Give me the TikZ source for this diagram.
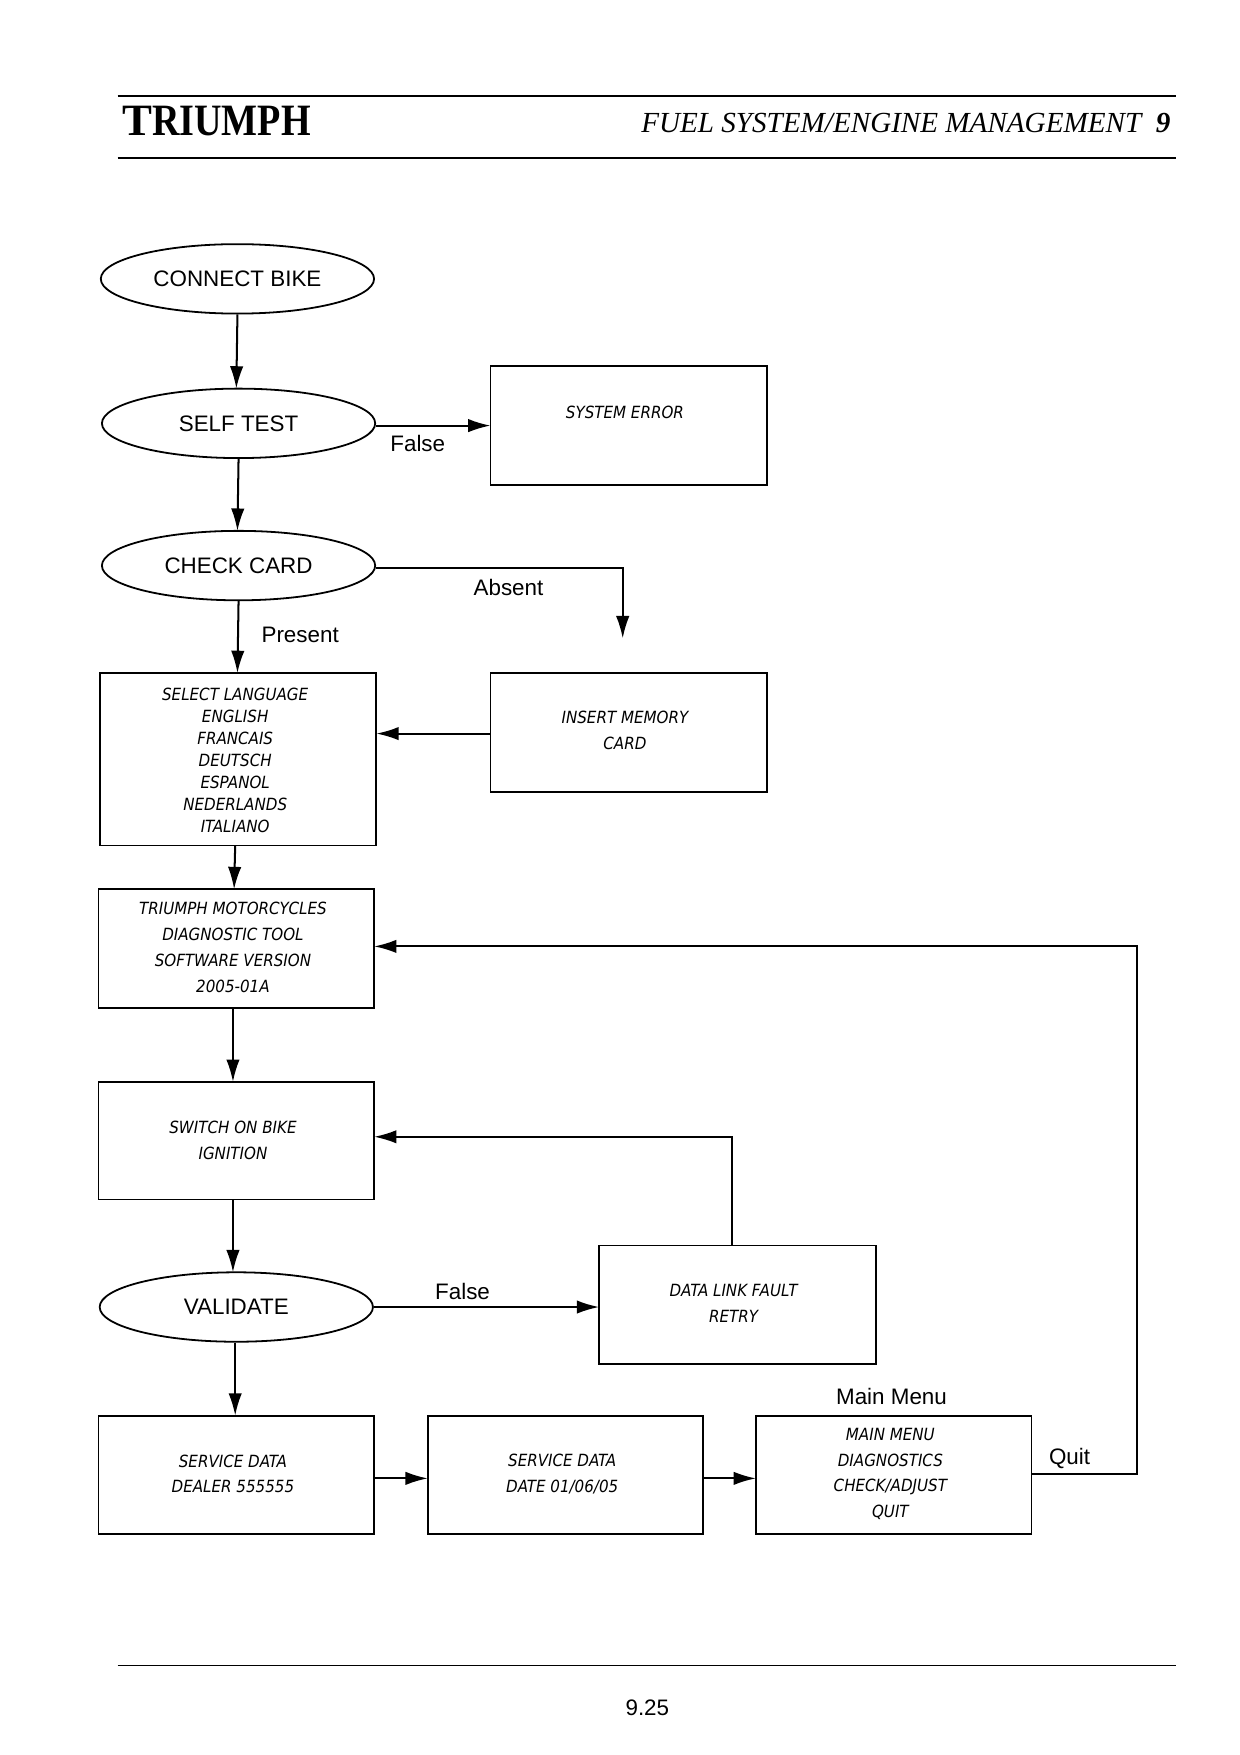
\documentclass[tikz,border=0pt]{standalone}
\usepackage{fontspec}
\setmainfont{Liberation Sans}
\newfontfamily\lcd{DejaVu Sans Condensed}
\newfontfamily\serifit{Liberation Serif}
\usetikzlibrary{shapes.geometric,arrows.meta}
\begin{document}
\begin{tikzpicture}[x=0.5pt,y=-0.5pt,
  el/.style={ellipse,draw,line width=0.8pt,minimum width=122pt,minimum height=31pt,inner sep=0pt,font=\fontsize{10}{12}\selectfont},
  bx/.style={draw,line width=0.8pt,inner sep=0pt},
  bt/.style={align=center,font=\lcd\itshape\fontsize{7.5}{11.5}\selectfont},
  lb/.style={font=\fontsize{10}{12}\selectfont},
  ar/.style={line width=0.9pt,-{Latex[length=10pt,width=6pt]}},
  ln/.style={line width=0.8pt}]
\useasboundingbox (0,0) rectangle (1107,1567);
% header/footer
\draw[line width=0.8pt] (105,86) -- (1050,86);
\draw[line width=0.8pt] (105,141) -- (1050,141);
\node[anchor=west,font=\fontfamily{}\serifit\bfseries\fontsize{20}{20}\selectfont] (logo) at (102,108) {T\scalebox{0.85}[1]{RIUMPH}};
\node[anchor=east,font=\serifit\itshape\fontsize{13}{14}\selectfont] (title) at (1052,110) {FUEL SYSTEM/ENGINE MANAGEMENT\ \ \textbf{9}};
\draw[line width=0.8pt] (105,1487) -- (1050,1487);
\node[lb] (pg) at (578,1525) {9.25};
% ellipses
\node[el] (cb) at (212,249) {CONNECT BIKE};
\node[el] (st) at (213,378) {SELF TEST};
\node[el] (cc) at (213,505) {CHECK CARD};
\node[el] (va) at (211,1167) {VALIDATE};
% boxes
\draw[bx] (438,327) rectangle (685,433); \node[bt] (se) at (558,368) {SYSTEM ERROR};
\coordinate (seW) at (438,380);
\draw[bx] (89,601) rectangle (336,755);
\node[bt,font=\lcd\itshape\fontsize{7.5}{9.8}\selectfont] (sl) at (210,679) {SELECT LANGUAGE\\ENGLISH\\FRANCAIS\\DEUTSCH\\ESPANOL\\NEDERLANDS\\ITALIANO};
\draw[bx] (438,601) rectangle (685,707); \node[bt] (im) at (558,652) {INSERT MEMORY\\CARD};
\draw[bx] (88,794) rectangle (334,900); \node[bt] (tm) at (208,846) {TRIUMPH MOTORCYCLES\\DIAGNOSTIC TOOL\\SOFTWARE VERSION\\2005-01A};
\draw[bx] (88,966) rectangle (334,1071); \node[bt] (sw) at (208,1018) {SWITCH ON BIKE\\IGNITION};
\draw[bx] (535,1112) rectangle (782,1218); \node[bt] (dl) at (655,1164) {DATA LINK FAULT\\RETRY};
\draw[bx] (88,1264) rectangle (334,1370); \node[bt] (s1) at (208,1316) {SERVICE DATA\\DEALER 555555};
\draw[bx] (382,1264) rectangle (628,1370); \node[bt] (s2) at (502,1316) {SERVICE DATA\\DATE 01/06/05};
\draw[bx] (675,1264) rectangle (921,1370); \node[bt] (mm) at (795,1316) {MAIN MENU\\DIAGNOSTICS\\CHECK/ADJUST\\QUIT};
% arrows
\draw[ar] (cb.south) -- (211,347);
\draw[ar] (st.south) -- (212,474);
\draw[ar] (st.east) ++(0,2) -- (seW);
\node[lb] (f1) at (373,396) {False};
\coordinate (ab) at (556,570);
\draw[ar] (cc.east) ++(0,2) -| (ab);
\node[lb] (absent) at (454,525) {Absent};
\draw[ar] (cc.south) -- (212,601);
\node[lb] (pr) at (268,567) {Present};
\draw[ar] (438,655) -- (336,655);
\draw[ar] (210,755) -- (209,794);
\draw[ar] (208,900) -- (208,966);
\draw[ar] (208,1071) -- (208,1136);
\draw[ar] (va.south) ++(-1,0) -- (210,1264);
\draw[ar] (va.east) -- (535,1167);
\node[lb] (f2) at (413,1153) {False};
\draw[ar] (654,1112) |- (334,1015);
\draw[ar] (334,1320) -- (382,1320);
\draw[ar] (628,1320) -- (675,1320);
\draw[ar] (921,1316) -- (1015,1316) |- (334,845);
\node[lb] (quit) at (955,1302) {Quit};
\node[lb] (mml) at (796,1247) {Main Menu};
\end{tikzpicture}
\end{document}
